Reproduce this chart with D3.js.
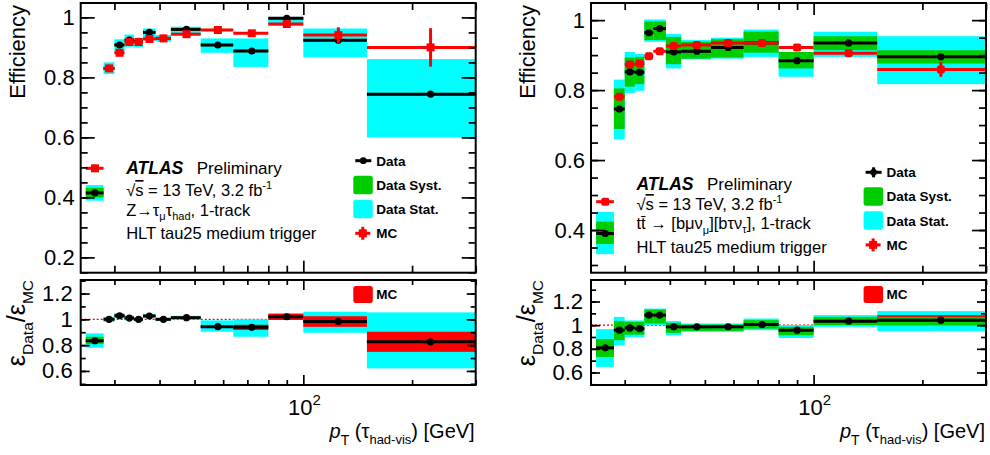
<!DOCTYPE html>
<html>
<head>
<meta charset="utf-8">
<script src="https://cdn.jsdelivr.net/npm/d3@7"></script>
<style>
body { margin: 0; background: #fff; }
svg { display: block; font-family: "Liberation Sans", Arial, Helvetica, sans-serif; }
</style>
</head>
<body>
<div id="fig"></div>
<script>
// pT bin edges [GeV], shared by both selections
var binEdges = [25, 28, 30, 32, 34, 36, 39, 43, 52, 64, 80, 100, 150, 300];

// axis ticks
var xMajorTicks = [100];
var xMinorTicks = [30, 40, 50, 60, 70, 80, 90, 200, 300];
var effTicksZ = [0.2, 0.4, 0.6, 0.8, 1];
var effTicksT = [0.4, 0.6, 0.8, 1];
var ratioTicks = [0.6, 0.8, 1, 1.2];

// Z -> tau_mu tau_had selection
var zData   = [0.415, 0.83, 0.908, 0.924, 0.92, 0.95, 0.93, 0.96, 0.908, 0.888, 0.997, 0.924, 0.744];
var zStatLo = [0.389, 0.811, 0.885, 0.902, 0.90, 0.93, 0.919, 0.941, 0.882, 0.835, 0.972, 0.867, 0.60];
var zStatHi = [0.441, 0.85, 0.927, 0.943, 0.932, 0.963, 0.941, 0.969, 0.93, 0.93, 1.0, 0.963, 0.861];
var zSystLo = [0.40, 0.826, 0.904, 0.92, 0.916, 0.946, 0.926, 0.956, 0.904, 0.884, 0.993, 0.92, 0.74];
var zSystHi = [0.432, 0.834, 0.912, 0.928, 0.924, 0.954, 0.934, 0.964, 0.912, 0.892, 1.001, 0.928, 0.748];
var zMC     = [0.497, 0.83, 0.882, 0.918, 0.918, 0.928, 0.93, 0.944, 0.958, 0.947, 0.978, 0.941, 0.90];
var zMCErr  = [0.004, 0.004, 0.004, 0.004, 0.004, 0.004, 0.004, 0.004, 0.005, 0.006, 0.012, 0.026, 0.064];
var zRatio       = [0.834, 1.0, 1.028, 1.01, 1.0, 1.026, 1.0, 1.013, 0.943, 0.938, 1.02, 0.983, 0.826];
var zRatioStatLo = [0.78, 0.98, 1.008, 0.992, 0.985, 1.01, 0.988, 0.999, 0.904, 0.865, 1.004, 0.896, 0.62];
var zRatioStatHi = [0.891, 1.02, 1.048, 1.028, 1.015, 1.042, 1.012, 1.027, 0.992, 1.0, 1.036, 1.059, 1.054];
var zRatioSystLo = [0.81, 0.996, 1.024, 1.006, 0.996, 1.022, 0.996, 1.009, 0.939, 0.934, 1.016, 0.979, 0.822];
var zRatioSystHi = [0.865, 1.004, 1.032, 1.014, 1.004, 1.03, 1.004, 1.017, 0.947, 0.942, 1.024, 0.987, 0.83];
var zRatioMCErr  = [0.01, 0.005, 0.005, 0.005, 0.005, 0.005, 0.005, 0.005, 0.005, 0.02, 0.025, 0.041, 0.078];

// ttbar selection
var tData   = [0.39, 0.746, 0.852, 0.851, 0.964, 0.976, 0.909, 0.911, 0.922, 0.935, 0.884, 0.935, 0.895];
var tStatLo = [0.331, 0.659, 0.792, 0.798, 0.938, 0.938, 0.862, 0.888, 0.89, 0.895, 0.838, 0.895, 0.817];
var tStatHi = [0.452, 0.83, 0.909, 0.903, 1.002, 1.002, 0.96, 0.943, 0.95, 0.973, 0.909, 0.967, 0.954];
var tSystLo = [0.36, 0.689, 0.81, 0.817, 0.943, 0.943, 0.874, 0.89, 0.893, 0.907, 0.862, 0.914, 0.876];
var tSystHi = [0.424, 0.805, 0.893, 0.895, 0.996, 0.996, 0.952, 0.938, 0.946, 0.967, 0.909, 0.954, 0.914];
var tMC     = [0.481, 0.781, 0.873, 0.876, 0.897, 0.911, 0.926, 0.929, 0.935, 0.935, 0.922, 0.905, 0.859];
var tMCErr  = [0.008, 0.008, 0.006, 0.006, 0.005, 0.005, 0.004, 0.004, 0.004, 0.005, 0.004, 0.005, 0.021];
var tRatio       = [0.808, 0.958, 0.977, 0.97, 1.085, 1.085, 0.986, 0.986, 0.986, 1.005, 0.958, 1.034, 1.042];
var tRatioStatLo = [0.647, 0.83, 0.90, 0.90, 1.0, 1.0, 0.915, 0.943, 0.943, 0.958, 0.892, 0.986, 0.949];
var tRatioStatHi = [0.966, 1.07, 1.04, 1.04, 1.14, 1.14, 1.034, 1.014, 1.014, 1.056, 1.0, 1.085, 1.119];
var tRatioSystLo = [0.731, 0.873, 0.92, 0.92, 1.014, 1.014, 0.935, 0.952, 0.952, 0.971, 0.915, 1.0, 1.0];
var tRatioSystHi = [0.881, 1.034, 1.028, 1.028, 1.132, 1.132, 1.02, 1.005, 1.005, 1.042, 0.986, 1.07, 1.07];
var tRatioMCErr  = [0.07, 0.01, 0.005, 0.005, 0.005, 0.005, 0.005, 0.005, 0.005, 0.005, 0.005, 0.005, 0.042];

var CYAN = "#00ffff", GREEN = "#00cc00", RED = "#ff0000";

var svg = d3.select("#fig").append("svg")
    .attr("width", 990)
    .attr("height", 455);

// text with sub/superscripts, parts = [{t, dy, size, style, weight, deco}]
function richText(g, x, y, parts, size, anchor, transform) {
    var t = g.append("text")
        .attr("x", x).attr("y", y)
        .attr("font-size", size)
        .attr("text-anchor", anchor || "start");
    if (transform) t.attr("transform", transform);
    var shift = 0;
    parts.forEach(function(p) {
        var target = p.dy || 0;
        var s = t.append("tspan").text(p.t).attr("dy", target - shift);
        shift = target;
        if (p.size) s.attr("font-size", p.size);
        if (p.style) s.attr("font-style", p.style);
        if (p.weight) s.attr("font-weight", p.weight);
        if (p.deco) s.attr("text-decoration", p.deco);
    });
    return t;
}

function styleAxis(sel, fs) {
    sel.select(".domain").remove();
    sel.attr("font-family", null).attr("font-size", fs || 22);
    sel.selectAll(".tick line").attr("stroke", "#000").attr("stroke-width", 1.7);
    sel.selectAll(".tick text").attr("fill", "#000");
}

function bands(g, x, y, lo, hi, color) {
    g.append("g").selectAll("rect")
        .data(lo)
        .enter().append("rect")
        .attr("x", function(d, i) { return x(binEdges[i]); })
        .attr("width", function(d, i) { return x(binEdges[i + 1]) - x(binEdges[i]); })
        .attr("y", function(d, i) { return y(hi[i]); })
        .attr("height", function(d, i) { return y(lo[i]) - y(hi[i]); })
        .attr("fill", color);
}

function binLines(g, x, y, vals, color) {
    g.append("g").selectAll("line")
        .data(vals)
        .enter().append("line")
        .attr("x1", function(d, i) { return x(binEdges[i]); })
        .attr("x2", function(d, i) { return x(binEdges[i + 1]); })
        .attr("y1", function(d) { return y(d); })
        .attr("y2", function(d) { return y(d); })
        .attr("stroke", color)
        .attr("stroke-width", 3);
}

function centre(i) { return (binEdges[i] + binEdges[i + 1]) / 2; }

function drawPanel(c) {
    var g = svg.append("g");
    var L = c.left, R = c.left + 395;
    var x = d3.scaleLog().domain([24.2, 300]).range([L, R]);
    var y = d3.scaleLinear().domain(c.effDomain).range([272.7, 3]);
    var yr = d3.scaleLinear().domain(c.ratioDomain).range([385, 280]);

    // ---- top pad
    bands(g, x, y, c.statLo, c.statHi, CYAN);
    bands(g, x, y, c.systLo, c.systHi, GREEN);
    binLines(g, x, y, c.data, "#000");
    g.append("g").selectAll("circle")
        .data(c.data)
        .enter().append("circle")
        .attr("cx", function(d, i) { return x(centre(i)); })
        .attr("cy", function(d) { return y(d); })
        .attr("r", 3.6)
        .attr("fill", "#000");
    binLines(g, x, y, c.mc, RED);
    g.append("g").selectAll("line")
        .data(c.mc)
        .enter().append("line")
        .attr("x1", function(d, i) { return x(centre(i)); })
        .attr("x2", function(d, i) { return x(centre(i)); })
        .attr("y1", function(d, i) { return y(d - c.mcErr[i]); })
        .attr("y2", function(d, i) { return y(d + c.mcErr[i]); })
        .attr("stroke", RED)
        .attr("stroke-width", 3);
    g.append("g").selectAll("rect")
        .data(c.mc)
        .enter().append("rect")
        .attr("x", function(d, i) { return x(centre(i)) - 4; })
        .attr("y", function(d) { return y(d) - 4; })
        .attr("width", 8).attr("height", 8)
        .attr("rx", c.markerRound)
        .attr("fill", RED);

    // ---- ratio pad
    g.append("line")
        .attr("x1", L).attr("x2", R)
        .attr("y1", yr(1)).attr("y2", yr(1))
        .attr("stroke", RED).attr("stroke-width", 1.2)
        .attr("stroke-dasharray", "2,2");
    bands(g, x, yr, c.rStatLo, c.rStatHi, CYAN);
    bands(g, x, yr, c.ratio.map(function(d, i) { return d - c.rMCErr[i]; }),
        c.ratio.map(function(d, i) { return d + c.rMCErr[i]; }), RED);
    bands(g, x, yr, c.rSystLo, c.rSystHi, GREEN);
    binLines(g, x, yr, c.ratio, "#000");
    g.append("g").selectAll("circle")
        .data(c.ratio)
        .enter().append("circle")
        .attr("cx", function(d, i) { return x(centre(i)); })
        .attr("cy", function(d) { return yr(d); })
        .attr("r", 3.6)
        .attr("fill", "#000");

    // ---- frames
    g.append("rect").attr("x", L).attr("y", 3).attr("width", 395).attr("height", 269.7)
        .attr("fill", "none").attr("stroke", "#000").attr("stroke-width", 2);
    g.append("rect").attr("x", L).attr("y", 280).attr("width", 395).attr("height", 105)
        .attr("fill", "none").attr("stroke", "#000").attr("stroke-width", 2);

    // ---- y axes (inward ticks)
    var effMinor = d3.range(Math.ceil(c.effDomain[0] * 20), Math.floor(c.effDomain[1] * 20) + 1).map(function(k) { return k / 20; });
    var ratioMinor = d3.range(5, 14).map(function(k) { return k / 10; }).filter(function(v) { return v <= c.ratioDomain[1]; });
    var fmt = d3.format("~g");
    [[y, effMinor, c.effTicks, 7, 14, 6], [yr, ratioMinor, ratioTicks, 5, 9, 8]].forEach(function(a) {
        g.append("g").attr("transform", "translate(" + L + ",0)")
            .call(d3.axisLeft(a[0]).tickValues(a[1]).tickSize(-a[3]).tickFormat(""))
            .call(styleAxis);
        g.append("g").attr("transform", "translate(" + L + ",0)")
            .call(d3.axisLeft(a[0]).tickValues(a[2]).tickSize(-a[4]).tickPadding(a[5]).tickFormat(fmt))
            .call(styleAxis);
        g.append("g").attr("transform", "translate(" + R + ",0)")
            .call(d3.axisRight(a[0]).tickValues(a[1]).tickSize(-a[3]).tickFormat(""))
            .call(styleAxis);
        g.append("g").attr("transform", "translate(" + R + ",0)")
            .call(d3.axisRight(a[0]).tickValues(a[2]).tickSize(-a[4]).tickFormat(""))
            .call(styleAxis);
    });

    // ---- x axes (inward ticks, top and bottom of both pads)
    [[3, 272.7, 7, 12], [280, 385, 5, 10]].forEach(function(a) {
        g.append("g").attr("transform", "translate(0," + a[0] + ")")
            .call(d3.axisTop(x).tickValues(xMinorTicks).tickSize(-a[2]).tickFormat(""))
            .call(styleAxis);
        g.append("g").attr("transform", "translate(0," + a[0] + ")")
            .call(d3.axisTop(x).tickValues(xMajorTicks).tickSize(-a[3]).tickFormat(""))
            .call(styleAxis);
        g.append("g").attr("transform", "translate(0," + a[1] + ")")
            .call(d3.axisBottom(x).tickValues(xMinorTicks).tickSize(-a[2]).tickFormat(""))
            .call(styleAxis);
        g.append("g").attr("transform", "translate(0," + a[1] + ")")
            .call(d3.axisBottom(x).tickValues(xMajorTicks).tickSize(-a[3]).tickFormat(""))
            .call(styleAxis);
    });
    richText(g, x(100) + 1, 415, [{t: "10"}, {t: "2", dy: -10, size: 15}], 22, "middle");

    // ---- axis titles
    g.append("text")
        .attr("transform", "translate(" + (L - 55.7) + ",5) rotate(-90)")
        .attr("text-anchor", "end")
        .attr("font-size", 22)
        .text("Efficiency");
    richText(g, 0, 0, [
        {t: "ε"}, {t: "Data", dy: 8, size: 15.5}, {t: "/"}, {t: "ε"}, {t: "MC", dy: 8, size: 15.5}
    ], 25, "end", "translate(" + (L - 55.7) + ",280) rotate(-90)");
    richText(g, R - 1, 438, [
        {t: "p", style: "italic"}, {t: "T", dy: 7, size: 14}, {t: " (τ"},
        {t: "had-vis", dy: 6, size: 13}, {t: ") [GeV]"}
    ], 20, "end");

    // ---- ATLAS label
    var tx = L + 45.5, ty = c.labelY;
    g.append("text").attr("x", tx).attr("y", ty[0]).attr("font-size", 17.5)
        .attr("font-style", "italic").attr("font-weight", "bold").text("ATLAS");
    g.append("text").attr("x", L + 116).attr("y", ty[0]).attr("font-size", 17).text("Preliminary");
    richText(g, tx, ty[1], [{t: "√"}, {t: "s", deco: "overline"}, {t: " = 13 TeV, 3.2 fb"}, {t: "-1", dy: -7, size: 11}], 16.5);
    richText(g, tx, ty[2], c.processLabel, 16.5);
    richText(g, tx, ty[3], [{t: "HLT tau25 medium trigger"}], 16.5);

    // ---- legend
    var lx = L + 272.6, ly = c.legendY;
    var items = g.append("g").attr("font-weight", "bold").attr("font-size", 13.5);
    // Data
    items.append("line").attr("x1", lx + 2).attr("x2", lx + 18).attr("y1", ly).attr("y2", ly)
        .attr("stroke", "#000").attr("stroke-width", 3);
    if (c.dataCross) {
        items.append("line").attr("x1", lx + 10).attr("x2", lx + 10).attr("y1", ly - 5).attr("y2", ly + 5)
            .attr("stroke", "#000").attr("stroke-width", 3);
    }
    items.append("circle").attr("cx", lx + 10).attr("cy", ly).attr("r", 3.4).attr("fill", "#000");
    items.append("text").attr("x", lx + 23).attr("y", ly + 5).text("Data");
    // Syst / Stat boxes
    items.append("rect").attr("x", lx).attr("y", ly + 15).attr("width", 19.5).attr("height", 18.5)
        .attr("rx", 2.5).attr("fill", GREEN);
    items.append("text").attr("x", lx + 23).attr("y", ly + 29).text("Data Syst.");
    items.append("rect").attr("x", lx).attr("y", ly + 39).attr("width", 19.5).attr("height", 18.5)
        .attr("rx", 2.5).attr("fill", CYAN);
    items.append("text").attr("x", lx + 23).attr("y", ly + 53.5).text("Data Stat.");
    // MC
    var my = ly + 72.6;
    items.append("line").attr("x1", lx + 2).attr("x2", lx + 17).attr("y1", my).attr("y2", my)
        .attr("stroke", RED).attr("stroke-width", 3);
    items.append("line").attr("x1", lx + 9.5).attr("x2", lx + 9.5).attr("y1", my - 6.5).attr("y2", my + 6.5)
        .attr("stroke", RED).attr("stroke-width", 3);
    items.append("rect").attr("x", lx + 5.5).attr("y", my - 4).attr("width", 8).attr("height", 8).attr("fill", RED);
    items.append("text").attr("x", lx + 23).attr("y", my + 5).text("MC");
    // ratio legend
    items.append("rect").attr("x", lx).attr("y", 286).attr("width", 19.5).attr("height", 17)
        .attr("rx", 2.5).attr("fill", RED);
    items.append("text").attr("x", lx + 23).attr("y", 299).text("MC");
}

drawPanel({
    left: 80.7,
    effDomain: [0.149, 1.048], effTicks: effTicksZ,
    ratioDomain: [0.491, 1.305],
    data: zData, statLo: zStatLo, statHi: zStatHi, systLo: zSystLo, systHi: zSystHi,
    mc: zMC, mcErr: zMCErr, markerRound: 0,
    ratio: zRatio, rStatLo: zRatioStatLo, rStatHi: zRatioStatHi,
    rSystLo: zRatioSystLo, rSystHi: zRatioSystHi, rMCErr: zRatioMCErr,
    labelY: [174, 196, 216, 239], legendY: 160.7, dataCross: false,
    processLabel: [{t: "Z→τ"}, {t: "μ", dy: 4, size: 11}, {t: "τ"}, {t: "had", dy: 4, size: 11}, {t: ", 1-track"}]
});

drawPanel({
    left: 591,
    effDomain: [0.278, 1.049], effTicks: effTicksT,
    ratioDomain: [0.494, 1.382],
    data: tData, statLo: tStatLo, statHi: tStatHi, systLo: tSystLo, systHi: tSystHi,
    mc: tMC, mcErr: tMCErr, markerRound: 2,
    ratio: tRatio, rStatLo: tRatioStatLo, rStatHi: tRatioStatHi,
    rSystLo: tRatioSystLo, rSystHi: tRatioSystHi, rMCErr: tRatioMCErr,
    labelY: [190, 210, 229, 253], legendY: 172.3, dataCross: true,
    processLabel: [{t: "tt\u0304 → [bμν"}, {t: "μ", dy: 5, size: 11}, {t: "][bτν"}, {t: "τ", dy: 4, size: 11}, {t: "], 1-track"}]
});
</script>
</body>
</html>
